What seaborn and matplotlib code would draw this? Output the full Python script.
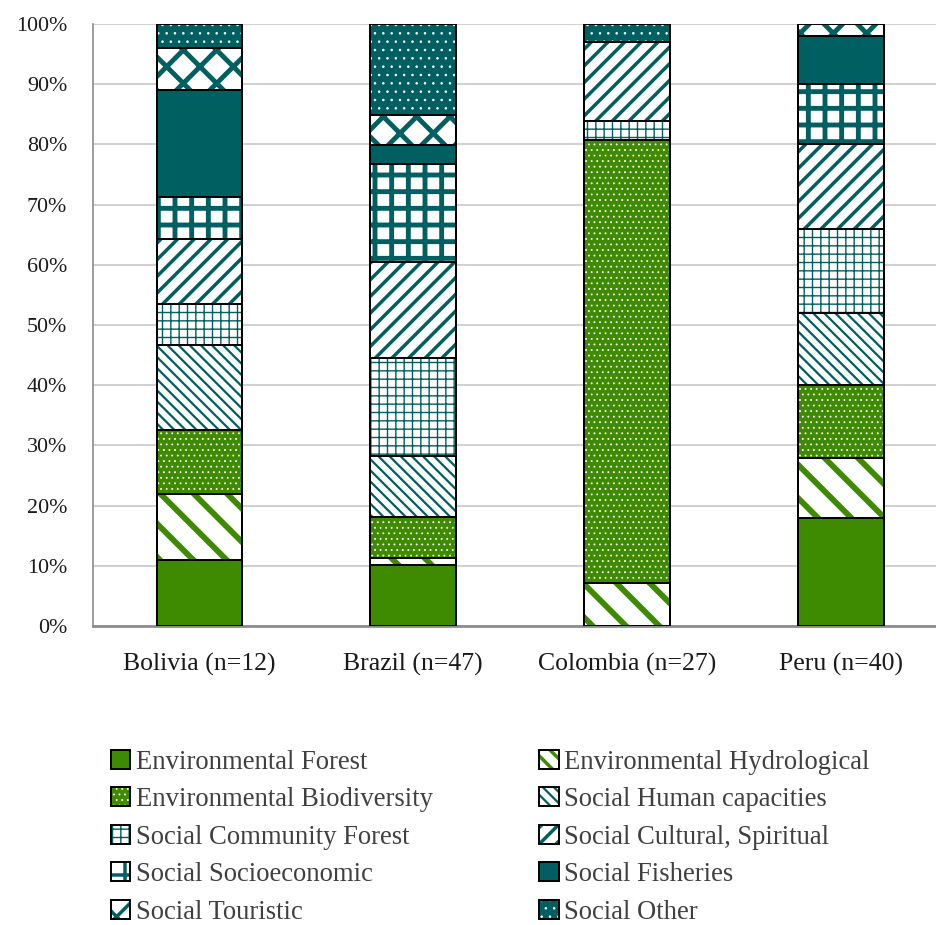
import matplotlib
matplotlib.use("Agg")
import matplotlib.pyplot as plt
from matplotlib.patches import Patch
from matplotlib.ticker import FuncFormatter
import seaborn as sns
import numpy as np

# categories (x axis)
countries = ["Bolivia (n=12)", "Brazil (n=47)", "Colombia (n=27)", "Peru (n=40)"]

# share of each category per country, in %, bottom to top
env_forest = [10.9, 10.1, 0.0, 17.9]
env_hydro = [11.0, 1.2, 7.1, 10.0]
env_biodiv = [10.7, 6.8, 73.6, 12.1]
soc_human = [14.1, 10.1, 0.0, 12.0]
soc_community = [6.8, 16.3, 3.2, 13.9]
soc_cultural = [10.8, 16.0, 13.1, 14.2]
soc_socioeco = [7.0, 16.2, 0.0, 9.9]
soc_fisheries = [17.7, 3.2, 0.0, 8.0]
soc_touristic = [7.0, 5.0, 0.0, 2.0]
soc_other = [4.0, 15.1, 3.0, 0.0]

labels = [
    "Environmental Forest",
    "Environmental Hydrological",
    "Environmental Biodiversity",
    "Social Human capacities",
    "Social Community Forest",
    "Social Cultural, Spiritual",
    "Social Socioeconomic",
    "Social Fisheries",
    "Social Touristic",
    "Social Other",
]
series = [env_forest, env_hydro, env_biodiv, soc_human, soc_community,
          soc_cultural, soc_socioeco, soc_fisheries, soc_touristic, soc_other]

GREEN = "#3e8a00"
TEAL = "#005f60"
WHITE = "#ffffff"
TEXT = "#404040"

# face colour, hatch, hatch colour, hatch linewidth
styles = [
    (GREEN, None, GREEN, 1.0),
    (WHITE, "\\", GREEN, 4.2),
    (GREEN, "...", WHITE, 0.6),
    (WHITE, "\\\\\\", TEAL, 1.6),
    (WHITE, "++", TEAL, 1.0),
    (WHITE, "//", TEAL, 2.5),
    (WHITE, "+", TEAL, 3.5),
    (TEAL, None, TEAL, 1.0),
    (WHITE, "x", TEAL, 3.5),
    (TEAL, "..", WHITE, 0.6),
]

sns.set_theme(style="white")
plt.rcParams["font.family"] = ["Liberation Serif", "DejaVu Serif"]
plt.rcParams["text.color"] = TEXT

fig = plt.figure(figsize=(9.37, 9.25), dpi=100)
ax = fig.add_axes([93 / 937, 1 - 626 / 925, 1 - 93 / 937, (626 - 24) / 925])

cum = np.cumsum(np.array(series), axis=0)
BAR_W = 0.40

# stacked bars: draw cumulative heights from the top layer down
for i in range(len(series) - 1, -1, -1):
    face, hatch, hcol, hlw = styles[i]
    n_before = len(ax.patches)
    with plt.rc_context({"hatch.linewidth": hlw}):
        sns.barplot(x=countries, y=cum[i], color=face, saturation=1,
                    facecolor=face, edgecolor=hcol, linewidth=0, hatch=hatch,
                    width=BAR_W, errorbar=None, ax=ax, zorder=2)
    for p in ax.patches[n_before:]:
        if hasattr(p, "set_hatch_linewidth"):
            p.set_hatch_linewidth(hlw)

# black outlines of each segment
for i in range(len(series)):
    sns.barplot(x=countries, y=cum[i], fill=False, color="black",
                facecolor="none", edgecolor="black", linewidth=1.4,
                width=BAR_W, errorbar=None, ax=ax, zorder=3)

ax.set_ylim(0, 100)
ax.set_xlim(-0.497, 3.45)
ax.set_yticks(range(0, 101, 10))
ax.yaxis.set_major_formatter(FuncFormatter(lambda v, _: f"{v:.0f}%"))
ax.grid(axis="y", color="#c8c8c8", linewidth=1.2, zorder=0)
ax.set_axisbelow(True)
ax.set_xlabel("")
ax.set_ylabel("")
for s in ["top", "right"]:
    ax.spines[s].set_visible(False)
ax.spines["left"].set_color("#8c8c8c")
ax.spines["left"].set_linewidth(1.2)
ax.spines["bottom"].set_color("#8c8c8c")
ax.spines["bottom"].set_linewidth(2.0)
ax.tick_params(axis="y", length=0, labelsize=15.8, labelcolor="#1a1a1a", pad=18.7)
ax.tick_params(axis="x", length=0, labelsize=18.5, labelcolor="#1a1a1a", pad=19.5)

# legend: two columns, filled row by row like the reference
handles = []
for k, (face, hatch, hcol, hlw) in enumerate(styles):
    leg_hatch = "\\\\" if k == 1 else hatch   # denser so a stripe shows in the small box
    fill_patch = Patch(facecolor=face, edgecolor=hcol, hatch=leg_hatch, linewidth=0)
    edge_patch = Patch(facecolor="none", edgecolor="black", linewidth=1.4)
    handles.append((fill_patch, edge_patch))
order = [0, 2, 4, 6, 8, 1, 3, 5, 7, 9]
leg = fig.legend([handles[k] for k in order], [labels[k] for k in order],
                 ncol=2, loc="upper left", bbox_to_anchor=(0.093, 0.2155),
                 frameon=False, fontsize=19.2, handlelength=0.72, handleheight=0.72,
                 handletextpad=0.2, labelspacing=0.47, columnspacing=4.0,
                 labelcolor=TEXT)
for h, k in zip(leg.legend_handles, order):
    if hasattr(h, "set_hatch_linewidth"):
        h.set_hatch_linewidth(min(styles[k][3], 2.5))

fig.savefig("out.png", dpi=100)
